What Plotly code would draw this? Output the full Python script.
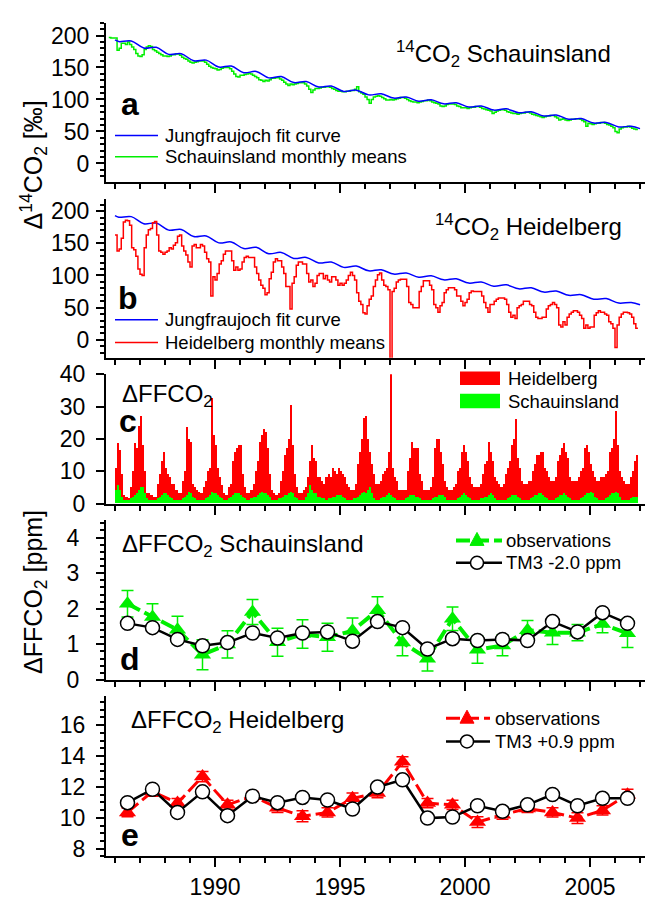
import plotly.graph_objects as go

W, H = 650, 906
FONT = "Liberation Sans, Arial, sans-serif"
BLUE = "#0000ff"
GREEN = "#00ee00"
GREEN_BAR = "#00ff00"
RED = "#ff0000"

# ---------------- data ----------------
# Jungfraujoch fit curve (read at seasonal minima / maxima)
jfj_t = [1986.0, 1986.15, 1986.65, 1987.15, 1987.65, 1988.15, 1988.65, 1989.15, 1989.65,
         1990.15, 1990.65, 1991.15, 1991.65, 1992.15, 1992.65, 1993.15, 1993.65, 1994.15,
         1994.65, 1995.15, 1995.65, 1996.15, 1996.65, 1997.15, 1997.65, 1998.15, 1998.65,
         1999.15, 1999.65, 2000.15, 2000.65, 2001.15, 2001.65, 2002.15, 2002.65, 2003.15,
         2003.65, 2004.15, 2004.65, 2005.15, 2005.65, 2006.15, 2006.65, 2007.0]
jfj_v = [193, 190.5, 191.5, 180.5, 181.5, 170.5, 171.5, 160.5, 161.5,
         150.7, 152.2, 141.8, 143.8, 133.8, 135.8, 126.5, 128, 119.5,
         121, 112.6, 114.6, 107.2, 108.8, 102.2, 103.8, 97.4, 99.4,
         93.2, 94.8, 88.2, 89.8, 83.4, 85.4, 79.2, 80.8, 74.2,
         75.8, 69.1, 70.1, 63.1, 64.1, 57.1, 58.1, 54.5]

# Schauinsland monthly means of D14CO2 (starting Oct 1985)
sch_start = (1985, 9)
sch_d14c = [
    [197, 196, 196],
    [196, 177, 180, 188, 188, 186, 190, 186, 182, 178, 172, 168],
    [167, 170, 178, 182, 184, 183, 178, 176, 174, 172, 170, 168],
    [168, 167, 168, 170, 170, 171, 171, 169, 166, 164, 163, 160],
    [158, 157, 158, 159, 160, 160, 160, 158, 155, 152, 150, 149],
    [148, 146, 147, 149, 150, 150, 150, 148, 144, 140, 136, 135],
    [138, 138, 139, 140, 141, 140, 138, 136, 134, 131, 130, 128],
    [130, 129, 131, 133, 133, 134, 134, 132, 130, 127, 124, 122],
    [124, 123, 124, 125, 126, 126, 126, 124, 121, 116, 111, 115],
    [117, 117, 118, 119, 119, 120, 120, 119, 117, 116, 114, 113],
    [113, 112, 112, 113, 113, 114, 114, 116, 120, 112, 110, 108],
    [104, 100, 94, 100, 104, 105, 106, 105, 103, 101, 99, 99],
    [100, 99, 100, 101, 102, 103, 103, 102, 100, 98, 97, 96],
    [96, 95, 96, 97, 98, 98, 99, 98, 96, 95, 94, 93],
    [90, 89, 90, 92, 93, 93, 93, 92, 90, 89, 87, 87],
    [87, 86, 87, 88, 88, 89, 89, 88, 86, 85, 84, 83],
    [82, 78, 80, 82, 83, 84, 84, 83, 81, 80, 79, 78],
    [78, 77, 78, 79, 79, 80, 80, 79, 77, 76, 75, 74],
    [73, 72, 73, 74, 74, 75, 75, 73, 71, 68, 69, 70],
    [68, 67, 68, 69, 69, 70, 70, 69, 67, 65, 58, 63],
    [62, 61, 62, 63, 63, 64, 64, 63, 61, 60, 58, 56],
    [50, 48, 54, 56, 57, 57, 58, 57, 55, 54, 53],
]

# Heidelberg monthly means of D14CO2 (starting Jan 1986)
hd_start = (1986, 0)
hd_d14c = [
    [163, 138, 141, 158, 183, 186, 185, 178, 143, 140, 130, 110],
    [102, 100, 143, 163, 171, 173, 182, 184, 163, 138, 136, 133],
    [136, 138, 143, 141, 147, 151, 161, 163, 146, 138, 132, 121],
    [113, 146, 148, 143, 143, 148, 146, 136, 126, 121, 68, 98],
    [93, 103, 118, 123, 133, 138, 138, 138, 123, 108, 113, 108],
    [110, 121, 128, 130, 128, 128, 128, 113, 103, 93, 85, 80],
    [70, 73, 95, 105, 121, 126, 123, 123, 113, 103, 83, 83],
    [48, 88, 98, 116, 121, 121, 118, 118, 103, 90, 93, 83],
    [88, 100, 103, 103, 95, 100, 93, 90, 98, 98, 93, 85],
    [88, 85, 88, 93, 100, 105, 100, 93, 73, 60, 55, 42],
    [40, 53, 63, 68, 83, 93, 101, 104, 93, 85, 83, 78],
    [-40, 75, 80, 90, 93, 94, 94, 94, 83, 58, 55, 50],
    [50, 50, 75, 83, 92, 92, 92, 85, 78, 55, 50, 43],
    [53, 58, 73, 78, 81, 81, 81, 78, 68, 68, 60, 53],
    [58, 63, 73, 76, 75, 75, 75, 75, 68, 58, 50, 43],
    [55, 55, 60, 63, 65, 65, 65, 63, 55, 43, 35, 38],
    [33, 50, 53, 55, 60, 60, 60, 55, 53, 43, 35, 33],
    [33, 35, 35, 48, 53, 55, 58, 55, 50, 23, 20, 28],
    [23, 35, 40, 43, 45, 45, 43, 38, 33, 18, 23, 18],
    [20, 20, 38, 42, 45, 43, 43, 40, 38, 28, 25, 18],
    [-12, 23, 35, 40, 43, 43, 42, 40, 35, 25, 18],
]

# Delta FFCO2 monthly (ppm), starting Jan 1986
hd_ffco2 = [
    [11, 18.5, 16.5, 9, 2.5, 2, 1.5, 5, 10, 18.5, 17, 24],
    [27, 18, 10, 3, 3, 2.5, 2, 2, 6, 9, 13, 16],
    [11, 9, 8, 6, 6, 4, 3, 3, 7, 10, 23.5, 20],
    [19, 6, 5, 4, 3.5, 3, 5, 7, 10, 11, 32.5, 21],
    [18, 11, 8, 5.5, 3, 2.5, 5, 6, 13, 16, 17, 18],
    [18, 9, 5, 3, 3, 4, 6, 10, 13, 19, 21, 23],
    [22, 17, 9, 4, 3, 2.5, 3, 7, 10, 15, 17, 20],
    [30.5, 18, 9, 5, 3, 3, 4, 5, 8, 13, 18, 14],
    [13, 8, 8, 7, 6, 8, 9, 8, 11, 10, 9, 11],
    [10, 9, 8, 6, 5, 4, 4, 6, 12, 16, 20, 26.5],
    [27, 20, 16, 12, 9, 6, 6, 7, 9, 10, 11, 16],
    [40, 11, 8, 7, 4, 4, 4, 4, 10, 14, 19, 17],
    [17, 17, 9, 7, 4, 4, 4, 5, 8, 17, 20, 20],
    [16, 12, 7, 5, 4, 4, 5, 6, 10, 11, 16, 18],
    [16, 13, 8, 6, 5, 5, 5, 6, 9, 12, 13, 19],
    [16, 13, 8, 7, 6, 5, 6, 9, 11, 13, 18, 20],
    [26, 14, 11, 7, 6, 6, 7, 7, 10, 12, 15, 15],
    [16, 16, 11, 10, 8, 7, 7, 8, 13, 15, 17, 18.5],
    [16, 14, 8, 7, 7, 7, 8, 10, 11, 17, 18, 16],
    [12, 10, 8, 7, 7, 8, 8, 9, 10, 16, 17, 20],
    [28.5, 18, 10, 8, 7, 6, 6, 8, 10, 13, 15],
]
sch_ffco2 = [
    [4, 5.5, 4, 2, 1, 1, 1, 1.5, 2, 2.5, 3, 4],
    [5, 5, 3, 1.5, 1, 1, 1, 1, 1.5, 2, 2.5, 3],
    [3, 2.5, 2, 1.5, 1, 1, 1, 1, 1.5, 2, 2.5, 3.5],
    [3, 2, 1.5, 1, 1, 1, 1, 1.5, 2, 2.5, 3.5, 3],
    [3, 2.5, 2, 1.5, 1, 1, 1.5, 2, 2.5, 3, 3, 3],
    [2.5, 2, 1.5, 1, 1, 1.5, 2, 2, 2.5, 3, 3.5, 3],
    [3, 2.5, 2, 1, 1, 1, 1.5, 1.5, 2, 2.5, 2.5, 3],
    [3.5, 3, 2, 1.5, 1, 1, 1, 2, 3, 5.5, 4, 3],
    [3, 2, 2, 1.5, 1.5, 1, 1.5, 1.5, 2, 2, 2.5, 2.5],
    [2.5, 2, 1.5, 1, 1, 1, 1.5, 1.5, 2, 2.5, 3, 3.5],
    [3, 4, 5, 3, 1.5, 1, 1, 1.5, 2, 2, 2.5, 3],
    [2.5, 2, 1.5, 1, 1, 1, 1, 1.5, 2, 2.5, 2.5, 2.5],
    [2, 2, 1.5, 1, 1, 1, 1, 1, 1.5, 2, 2, 2.5],
    [2.5, 2.5, 2, 1, 1, 1, 1, 1, 1.5, 2, 2.5, 3],
    [2.5, 2, 1.5, 1, 1, 1, 1, 1.5, 1.5, 2, 2, 2.5],
    [3, 2.5, 1.5, 1, 1, 1, 1, 1, 1.5, 2, 2.5, 2.5],
    [2.5, 2, 1.5, 1, 1, 1, 1, 1.5, 2, 2.5, 2.5, 3],
    [3, 2.5, 2, 1.5, 1, 1, 1, 1.5, 2, 2.5, 2.5, 3],
    [2.5, 2, 1.5, 1, 1, 1, 1, 1.5, 2, 2.5, 3, 3],
    [3.5, 3, 2, 1.5, 1, 1, 1, 1.5, 2, 2.5, 3, 3],
    [3.5, 3, 2, 1, 1, 1, 1, 1.5, 2, 2, 2],
]

# Annual means (panels d, e)
obs_years = [1986.5, 1987.5, 1988.5, 1989.5, 1990.5, 1991.5, 1992.5, 1993.5, 1994.5, 1995.5,
             1996.5, 1997.5, 1998.5, 1999.5, 2000.5, 2001.5, 2002.5, 2003.5, 2004.5, 2005.5, 2006.5]
sch_obs = [2.14, 1.77, 1.41, 0.71, 1.00, 1.91, 1.06, 1.29, 1.20, 1.38, 1.96,
           1.05, 0.60, 1.72, 0.85, 0.97, 1.40, 1.33, 1.33, 1.57, 1.31]
sch_err = [0.37, 0.37, 0.38, 0.42, 0.38, 0.35, 0.39, 0.40, 0.39, 0.36, 0.38,
           0.37, 0.35, 0.33, 0.38, 0.29, 0.27, 0.33, 0.23, 0.24, 0.40]
sch_tm3 = [1.59, 1.47, 1.14, 0.96, 1.05, 1.32, 1.18, 1.32, 1.35, 1.09, 1.64,
           1.47, 0.87, 1.16, 1.11, 1.14, 1.11, 1.64, 1.35, 1.89, 1.59]
hd_obs = [10.35, 11.7, 10.95, 12.67, 10.84, 11.4, 10.65, 10.1, 10.35, 11.26, 11.6,
          13.63, 10.95, 10.84, 9.72, 10.2, 10.6, 10.35, 9.98, 10.48, 11.5]
hd_err = [0.28, 0.3, 0.3, 0.33, 0.3, 0.3, 0.3, 0.35, 0.3, 0.35, 0.3,
          0.33, 0.3, 0.3, 0.35, 0.3, 0.25, 0.3, 0.35, 0.3, 0.35]
hd_tm3 = [10.98, 11.85, 10.35, 11.68, 10.14, 11.4, 10.98, 11.32, 11.15, 10.57, 11.99,
          12.46, 9.98, 10.05, 10.78, 10.42, 10.84, 11.51, 10.78, 11.26, 11.26]

# ---------------- helpers ----------------
def flatten(rows):
    return [v for r in rows for v in r]

def month_starts(start, n):
    y0, m0 = start
    return [y0 + (m0 + i) / 12.0 for i in range(n)]

def step_xy(start, rows):
    vals = flatten(rows)
    xs = month_starts(start, len(vals))
    return xs + [xs[-1] + 1 / 12.0], vals + [vals[-1]]

def px(x):
    return x / W

def py(y):
    return 1 - y / H

XR = [1985.64, 2007.2]
XDOM = [px(106), px(645)]
DOMS = {
    1: [py(174), py(10)],
    2: [py(355), py(191.7)],
    3: [py(505), py(372)],
    4: [py(686.7), py(521.7)],
    5: [py(868.3), py(703)],
}

fig = go.Figure()

# panel a
sx, sy = step_xy(sch_start, sch_d14c)
fig.add_trace(go.Scatter(x=sx, y=sy, mode="lines", line=dict(color=GREEN, width=1.5, shape="hv"),
                         xaxis="x", yaxis="y", name="Schauinsland monthly means"))
fig.add_trace(go.Scatter(x=jfj_t, y=jfj_v, mode="lines", line=dict(color=BLUE, width=1.5, shape="spline", smoothing=1.0),
                         xaxis="x", yaxis="y", name="Jungfraujoch fit curve"))
# panel b
hx, hy = step_xy(hd_start, hd_d14c)
fig.add_trace(go.Scatter(x=jfj_t, y=jfj_v, mode="lines", line=dict(color=BLUE, width=1.5, shape="spline", smoothing=1.0),
                         xaxis="x2", yaxis="y2", name="Jungfraujoch fit curve"))
fig.add_trace(go.Scatter(x=hx, y=hy, mode="lines", line=dict(color=RED, width=1.5, shape="hv"),
                         xaxis="x2", yaxis="y2", name="Heidelberg monthly means"))
# panel c
hf = flatten(hd_ffco2)
sf = flatten(sch_ffco2)
hfx = [t + 1 / 24.0 for t in month_starts(hd_start, len(hf))]
sfx = [t + 1 / 24.0 for t in month_starts(hd_start, len(sf))]
fig.add_trace(go.Bar(x=hfx, y=hf, width=1 / 12.0, marker=dict(color=RED, line=dict(width=0)),
                     xaxis="x3", yaxis="y3", name="Heidelberg"))
fig.add_trace(go.Bar(x=sfx, y=sf, width=1 / 12.0, marker=dict(color=GREEN_BAR, line=dict(width=0)),
                     xaxis="x3", yaxis="y3", name="Schauinsland"))
# panel d
fig.add_trace(go.Scatter(x=obs_years, y=sch_obs, mode="lines+markers",
                         line=dict(color=GREEN, width=4, dash="14px,5px"),
                         marker=dict(symbol="triangle-up", size=15, color=GREEN),
                         error_y=dict(type="data", array=sch_err, color=GREEN, thickness=1.5, width=6),
                         xaxis="x4", yaxis="y4", name="observations"))
fig.add_trace(go.Scatter(x=obs_years, y=sch_tm3, mode="lines+markers",
                         line=dict(color="black", width=2.5),
                         marker=dict(symbol="circle", size=14, color="white", line=dict(color="black", width=1.5)),
                         xaxis="x4", yaxis="y4", name="TM3 -2.0 ppm"))
# panel e
fig.add_trace(go.Scatter(x=obs_years, y=hd_obs, mode="lines+markers",
                         line=dict(color=RED, width=3, dash="14px,5px"),
                         marker=dict(symbol="triangle-up", size=15, color=RED),
                         error_y=dict(type="data", array=hd_err, color=RED, thickness=1.5, width=6),
                         xaxis="x5", yaxis="y5", name="observations"))
fig.add_trace(go.Scatter(x=obs_years, y=hd_tm3, mode="lines+markers",
                         line=dict(color="black", width=2.5),
                         marker=dict(symbol="circle", size=14, color="white", line=dict(color="black", width=1.5)),
                         xaxis="x5", yaxis="y5", name="TM3 +0.9 ppm"))

TICKFONT = dict(family=FONT, size=23, color="black")

def xaxis_cfg(i, labels):
    return dict(domain=XDOM, range=XR, anchor="y" if i == 1 else "y%d" % i,
                showline=True, linewidth=2, linecolor="black",
                ticks="outside", ticklen=9, tickwidth=2, tickcolor="black",
                tick0=1990, dtick=5,
                minor=dict(ticks="outside", dtick=1, ticklen=5, tickwidth=2, tickcolor="black", showgrid=False),
                showgrid=False, zeroline=False, showticklabels=labels, tickfont=TICKFONT,
                fixedrange=True)

def yaxis_cfg(i, rng, tick0, dtick, minor_dtick, standoff):
    d = dict(domain=DOMS[i], range=rng, anchor="x" if i == 1 else "x%d" % i,
             showline=True, linewidth=2, linecolor="black",
             ticks="outside", ticklen=8, tickwidth=2, tickcolor="black",
             tick0=tick0, dtick=dtick, showgrid=False, zeroline=False,
             tickfont=TICKFONT, ticklabelstandoff=standoff, fixedrange=True)
    if minor_dtick:
        d["minor"] = dict(ticks="outside", dtick=minor_dtick, ticklen=4, tickwidth=1.5,
                          tickcolor="black", showgrid=False)
    return d

layout = dict(
    width=W, height=H, margin=dict(l=0, r=0, t=0, b=0),
    paper_bgcolor="white", plot_bgcolor="white", showlegend=False,
    barmode="overlay", bargap=0,
    font=dict(family=FONT, color="black"),
)
for i in range(1, 6):
    key = "xaxis" if i == 1 else "xaxis%d" % i
    layout[key] = xaxis_cfg(i, i == 5)
layout["yaxis"] = yaxis_cfg(1, [-29, 220], 0, 50, 10, 2)
layout["yaxis2"] = yaxis_cfg(2, [-28, 218.6], 0, 50, 10, 2)
layout["yaxis3"] = yaxis_cfg(3, [0, 40], 0, 10, None, 6)
layout["yaxis4"] = yaxis_cfg(4, [0, 4.5], 0, 1, 0.2, 12)
layout["yaxis5"] = yaxis_cfg(5, [7.5, 17.9], 8, 2, 0.5, 6)
fig.update_layout(**layout)

annotations = []
shapes = []

def text(t, x, y, size, xanchor="left", yanchor="middle", angle=0):
    annotations.append(dict(text=t, x=px(x), y=py(y), xref="paper", yref="paper",
                            xanchor=xanchor, yanchor=yanchor, showarrow=False, textangle=angle,
                            font=dict(family=FONT, size=size, color="black")))

# panel titles
text("<sup>14</sup>CO<sub>2</sub> Schauinsland", 394, 42, 24)
text("<sup>14</sup>CO<sub>2</sub> Heidelberg", 433, 220, 24)
text("ΔFFCO<sub>2</sub>", 120, 394, 24)
text("ΔFFCO<sub>2</sub> Schauinsland", 120, 548, 24)
text("ΔFFCO<sub>2</sub> Heidelberg", 129, 729, 24)
# panel letters
for letter, (lx, ly) in zip("abcde", [(130, 94), (128, 293), (128, 420), (130, 665), (130, 846)]):
    text("<b>%s</b>" % letter, lx, ly, 32, xanchor="center")
# axis titles
text("Δ<sup>14</sup>CO<sub>2</sub> [‰]", 34, 157, 25, xanchor="center", angle=-90)
text("ΔFFCO<sub>2</sub> [ppm]", 35, 596, 25, xanchor="center", angle=-90)

LEG = 18.5

def leg_line(x0, x1, y, color, width, dash=None):
    shapes.append(dict(type="line", xref="paper", yref="paper", x0=px(x0), x1=px(x1), y0=py(y), y1=py(y),
                       line=dict(color=color, width=width, dash=dash) if dash else dict(color=color, width=width)))

def leg_tri(x, y, color):
    shapes.append(dict(type="path", xref="paper", yref="paper", xsizemode="pixel", ysizemode="pixel",
                       xanchor=px(x), yanchor=py(y), path="M -7,-5 L 7,-5 L 0,8 Z",
                       fillcolor=color, line=dict(color=color, width=1)))

def leg_circ(x, y):
    shapes.append(dict(type="circle", xref="paper", yref="paper", xsizemode="pixel", ysizemode="pixel",
                       xanchor=px(x), yanchor=py(y), x0=-6.5, x1=6.5, y0=-6.5, y1=6.5,
                       fillcolor="white", line=dict(color="black", width=1.5)))

def leg_box(x0, x1, y0, y1, color):
    shapes.append(dict(type="rect", xref="paper", yref="paper", x0=px(x0), x1=px(x1), y0=py(y1), y1=py(y0),
                       fillcolor=color, line=dict(width=0)))

# legend a
leg_line(115, 158, 126, BLUE, 1.5)
text("Jungfraujoch fit curve", 163, 126, LEG)
leg_line(115, 158, 148, GREEN, 1.5)
text("Schauinsland monthly means", 163, 148, LEG)
# legend b
leg_line(115, 158, 315.7, BLUE, 1.5)
text("Jungfraujoch fit curve", 163, 315.7, LEG)
leg_line(115, 158, 339.3, RED, 1.5)
text("Heidelberg monthly means", 163, 339.3, LEG)
# legend c
leg_box(460, 500, 369, 383, RED)
text("Heidelberg", 506, 376, LEG)
leg_box(460, 500, 392, 407, GREEN_BAR)
text("Schauinsland", 506, 399.5, LEG)
# legend d
leg_line(456, 502, 543, GREEN, 4, "14px,5px")
leg_tri(477, 543, GREEN)
text("observations", 504, 543, LEG)
leg_line(456, 502, 566, "black", 2.5)
leg_circ(477, 566)
text("TM3 -2.0 ppm", 504, 566, LEG)
# legend e
leg_line(446, 490, 726, RED, 3, "14px,5px")
leg_tri(467, 726, RED)
text("observations", 493, 726, LEG)
leg_line(446, 490, 750, "black", 2.5)
leg_circ(467, 750)
text("TM3 +0.9 ppm", 493, 750, LEG)

fig.update_layout(annotations=annotations, shapes=shapes)
fig.write_html("out.html", config={"displayModeBar": False},
               post_script="document.body.style.margin='0';document.body.style.overflow='hidden';")
